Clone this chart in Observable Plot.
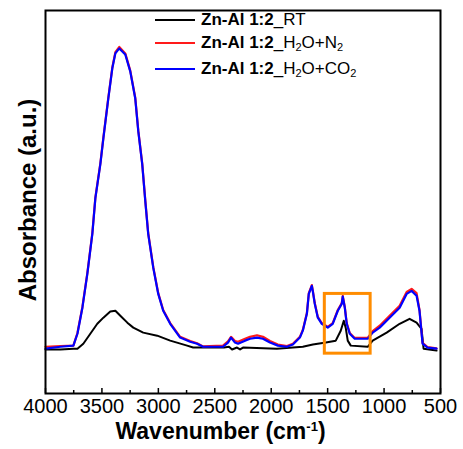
<!DOCTYPE html>
<html>
<head>
<meta charset="utf-8">
<script src="https://cdn.jsdelivr.net/npm/d3@7"></script>
<script src="https://cdn.jsdelivr.net/npm/@observablehq/plot@0.6"></script>
<style>
  html, body { margin: 0; padding: 0; background: #fff; }
  #wrap { position: relative; width: 463px; height: 449px; font-family: "Liberation Sans", Arial, sans-serif; color: #000; }
  #wrap svg { position: absolute; left: 0; top: 0; }
  .leg { position: absolute; left: 155px; font-size: 17px; line-height: 20px; white-space: nowrap; }
  .leg .sw { display: inline-block; width: 40px; height: 2px; vertical-align: middle; margin-right: 6px; position: relative; top: -1px; }
  .leg sub { font-size: 11px; vertical-align: -3px; line-height: 0; }
  #xl { position: absolute; top: 420px; left: 0; width: 463px; text-align: center; font-weight: bold; font-size: 23px; line-height: 23px; padding-right: 22px; box-sizing: border-box; }
  #xl sup { font-size: 13px; vertical-align: 8px; line-height: 0; }
  #yl { position: absolute; left: 28px; top: 200px; transform: translate(-50%, -50%) rotate(-90deg); font-weight: bold; font-size: 24px; white-space: nowrap; }
</style>
</head>
<body>
<div id="wrap"></div>
<script>
// Wavenumbers (cm^-1) and absorbance (a.u.)
const wnBlue = [4000,3867,3753,3717,3673,3629,3585,3558,3514,3487,3443,3408,3381,3346,3293,3249,3205,3178,3143,3116,3090,3045,3001,2957,2895,2807,2718,2657,2604,2427,2383,2356,2321,2294,2232,2188,2126,2073,2011,1941,1861,1808,1746,1720,1684,1667,1640,1631,1614,1587,1552,1499,1455,1410,1375,1366,1348,1331,1304,1260,1145,1101,1039,951,862,800,756,712,686,659,615,535];
const absBlue = [0.117,0.122,0.125,0.156,0.224,0.313,0.417,0.510,0.599,0.667,0.771,0.849,0.888,0.901,0.885,0.841,0.771,0.685,0.599,0.503,0.417,0.328,0.260,0.216,0.182,0.146,0.135,0.130,0.122,0.122,0.133,0.146,0.133,0.130,0.138,0.143,0.146,0.143,0.133,0.125,0.122,0.128,0.146,0.164,0.208,0.260,0.281,0.266,0.234,0.198,0.182,0.172,0.182,0.216,0.234,0.253,0.224,0.182,0.156,0.143,0.143,0.159,0.172,0.198,0.224,0.260,0.268,0.255,0.216,0.130,0.120,0.117];
const absRed  = [0.122,0.124,0.125,0.158,0.226,0.315,0.419,0.512,0.601,0.669,0.773,0.851,0.891,0.905,0.888,0.843,0.773,0.687,0.601,0.505,0.419,0.330,0.262,0.218,0.184,0.148,0.137,0.131,0.123,0.125,0.136,0.148,0.137,0.135,0.143,0.148,0.152,0.148,0.137,0.128,0.124,0.130,0.148,0.166,0.210,0.262,0.283,0.268,0.236,0.200,0.184,0.174,0.184,0.218,0.236,0.255,0.226,0.184,0.158,0.145,0.145,0.163,0.177,0.203,0.229,0.265,0.273,0.262,0.218,0.132,0.121,0.118];
const wnBlack = [4000,3867,3753,3717,3665,3603,3541,3487,3426,3381,3337,3275,3222,3134,3010,2895,2745,2692,2418,2374,2347,2303,2276,2250,1950,1808,1720,1631,1516,1428,1384,1357,1340,1322,1295,1145,1101,977,862,774,712,668,650,535];
const absBlack = [0.115,0.115,0.117,0.117,0.130,0.156,0.182,0.198,0.214,0.216,0.203,0.185,0.172,0.159,0.151,0.138,0.125,0.120,0.120,0.122,0.115,0.120,0.115,0.120,0.117,0.120,0.122,0.128,0.133,0.138,0.164,0.190,0.172,0.138,0.125,0.122,0.138,0.159,0.182,0.195,0.185,0.169,0.117,0.112];
const seriesNames = ["Zn-Al 1:2_RT", "Zn-Al 1:2_H2O+N2", "Zn-Al 1:2_H2O+CO2"];
const seriesColors = ["#000000", "#ff1a1a", "#0000ff"];
const xTicks = [4000,3500,3000,2500,2000,1500,1000,500];
const xMinorTicks = [3750,3250,2750,2250,1750,1250,750];
const highlightWn = [1525, 1119];   // orange box wavenumber range
const highlightAbs = [0.104, 0.260]; // orange box absorbance range

const black = wnBlack.map((w, i) => ({w, a: absBlack[i]}));
const red = wnBlue.map((w, i) => ({w, a: absRed[i]}));
const blue = wnBlue.map((w, i) => ({w, a: absBlue[i]}));
const box = [{x1: highlightWn[0], x2: highlightWn[1], y1: highlightAbs[0], y2: highlightAbs[1]}];

const chart = Plot.plot({
  width: 463,
  height: 449,
  marginLeft: 45,
  marginRight: 23,
  marginTop: 10,
  marginBottom: 56,
  style: {fontFamily: "'Liberation Sans', Arial, sans-serif", background: "transparent", color: "#000"},
  x: {domain: [4000, 500], axis: null},
  y: {domain: [0, 1], axis: null},
  marks: [
    Plot.axisX({ticks: xTicks, tickSize: 0, tickPadding: 5, fontSize: 20, label: null, tickFormat: d => String(d)}),
    Plot.axisX({ticks: xTicks, tickSize: -5, label: null, tickFormat: () => "", strokeWidth: 1.5}),
    Plot.axisX({ticks: xMinorTicks, tickSize: -3, label: null, tickFormat: () => "", strokeWidth: 1.5}),
    Plot.line(black, {x: "w", y: "a", stroke: seriesColors[0], strokeWidth: 2}),
    Plot.line(red, {x: "w", y: "a", stroke: seriesColors[1], strokeWidth: 2.2}),
    Plot.line(blue, {x: "w", y: "a", stroke: seriesColors[2], strokeWidth: 2.2}),
    Plot.rect(box, {x1: "x1", x2: "x2", y1: "y1", y2: "y2", fill: "none", stroke: "#ff8c00", strokeWidth: 3}),
    Plot.frame({stroke: "#000", strokeWidth: 2})
  ]
});

const wrap = document.getElementById("wrap");
wrap.appendChild(chart);

const legendY = [20, 43, 69];
const legendHTML = [
  "<b>Zn-Al 1:2</b>_RT",
  "<b>Zn-Al 1:2</b>_H<sub>2</sub>O+N<sub>2</sub>",
  "<b>Zn-Al 1:2</b>_H<sub>2</sub>O+CO<sub>2</sub>"
];
seriesNames.forEach((name, i) => {
  const d = document.createElement("div");
  d.className = "leg";
  d.title = name;
  d.style.top = (legendY[i] - 10) + "px";
  d.innerHTML = `<span class="sw" style="background:${seriesColors[i]}"></span>${legendHTML[i]}`;
  wrap.appendChild(d);
});

const xl = document.createElement("div");
xl.id = "xl";
xl.innerHTML = "Wavenumber (cm<sup>-1</sup>)";
wrap.appendChild(xl);

const yl = document.createElement("div");
yl.id = "yl";
yl.textContent = "Absorbance (a.u.)";
wrap.appendChild(yl);
</script>
</body>
</html>
